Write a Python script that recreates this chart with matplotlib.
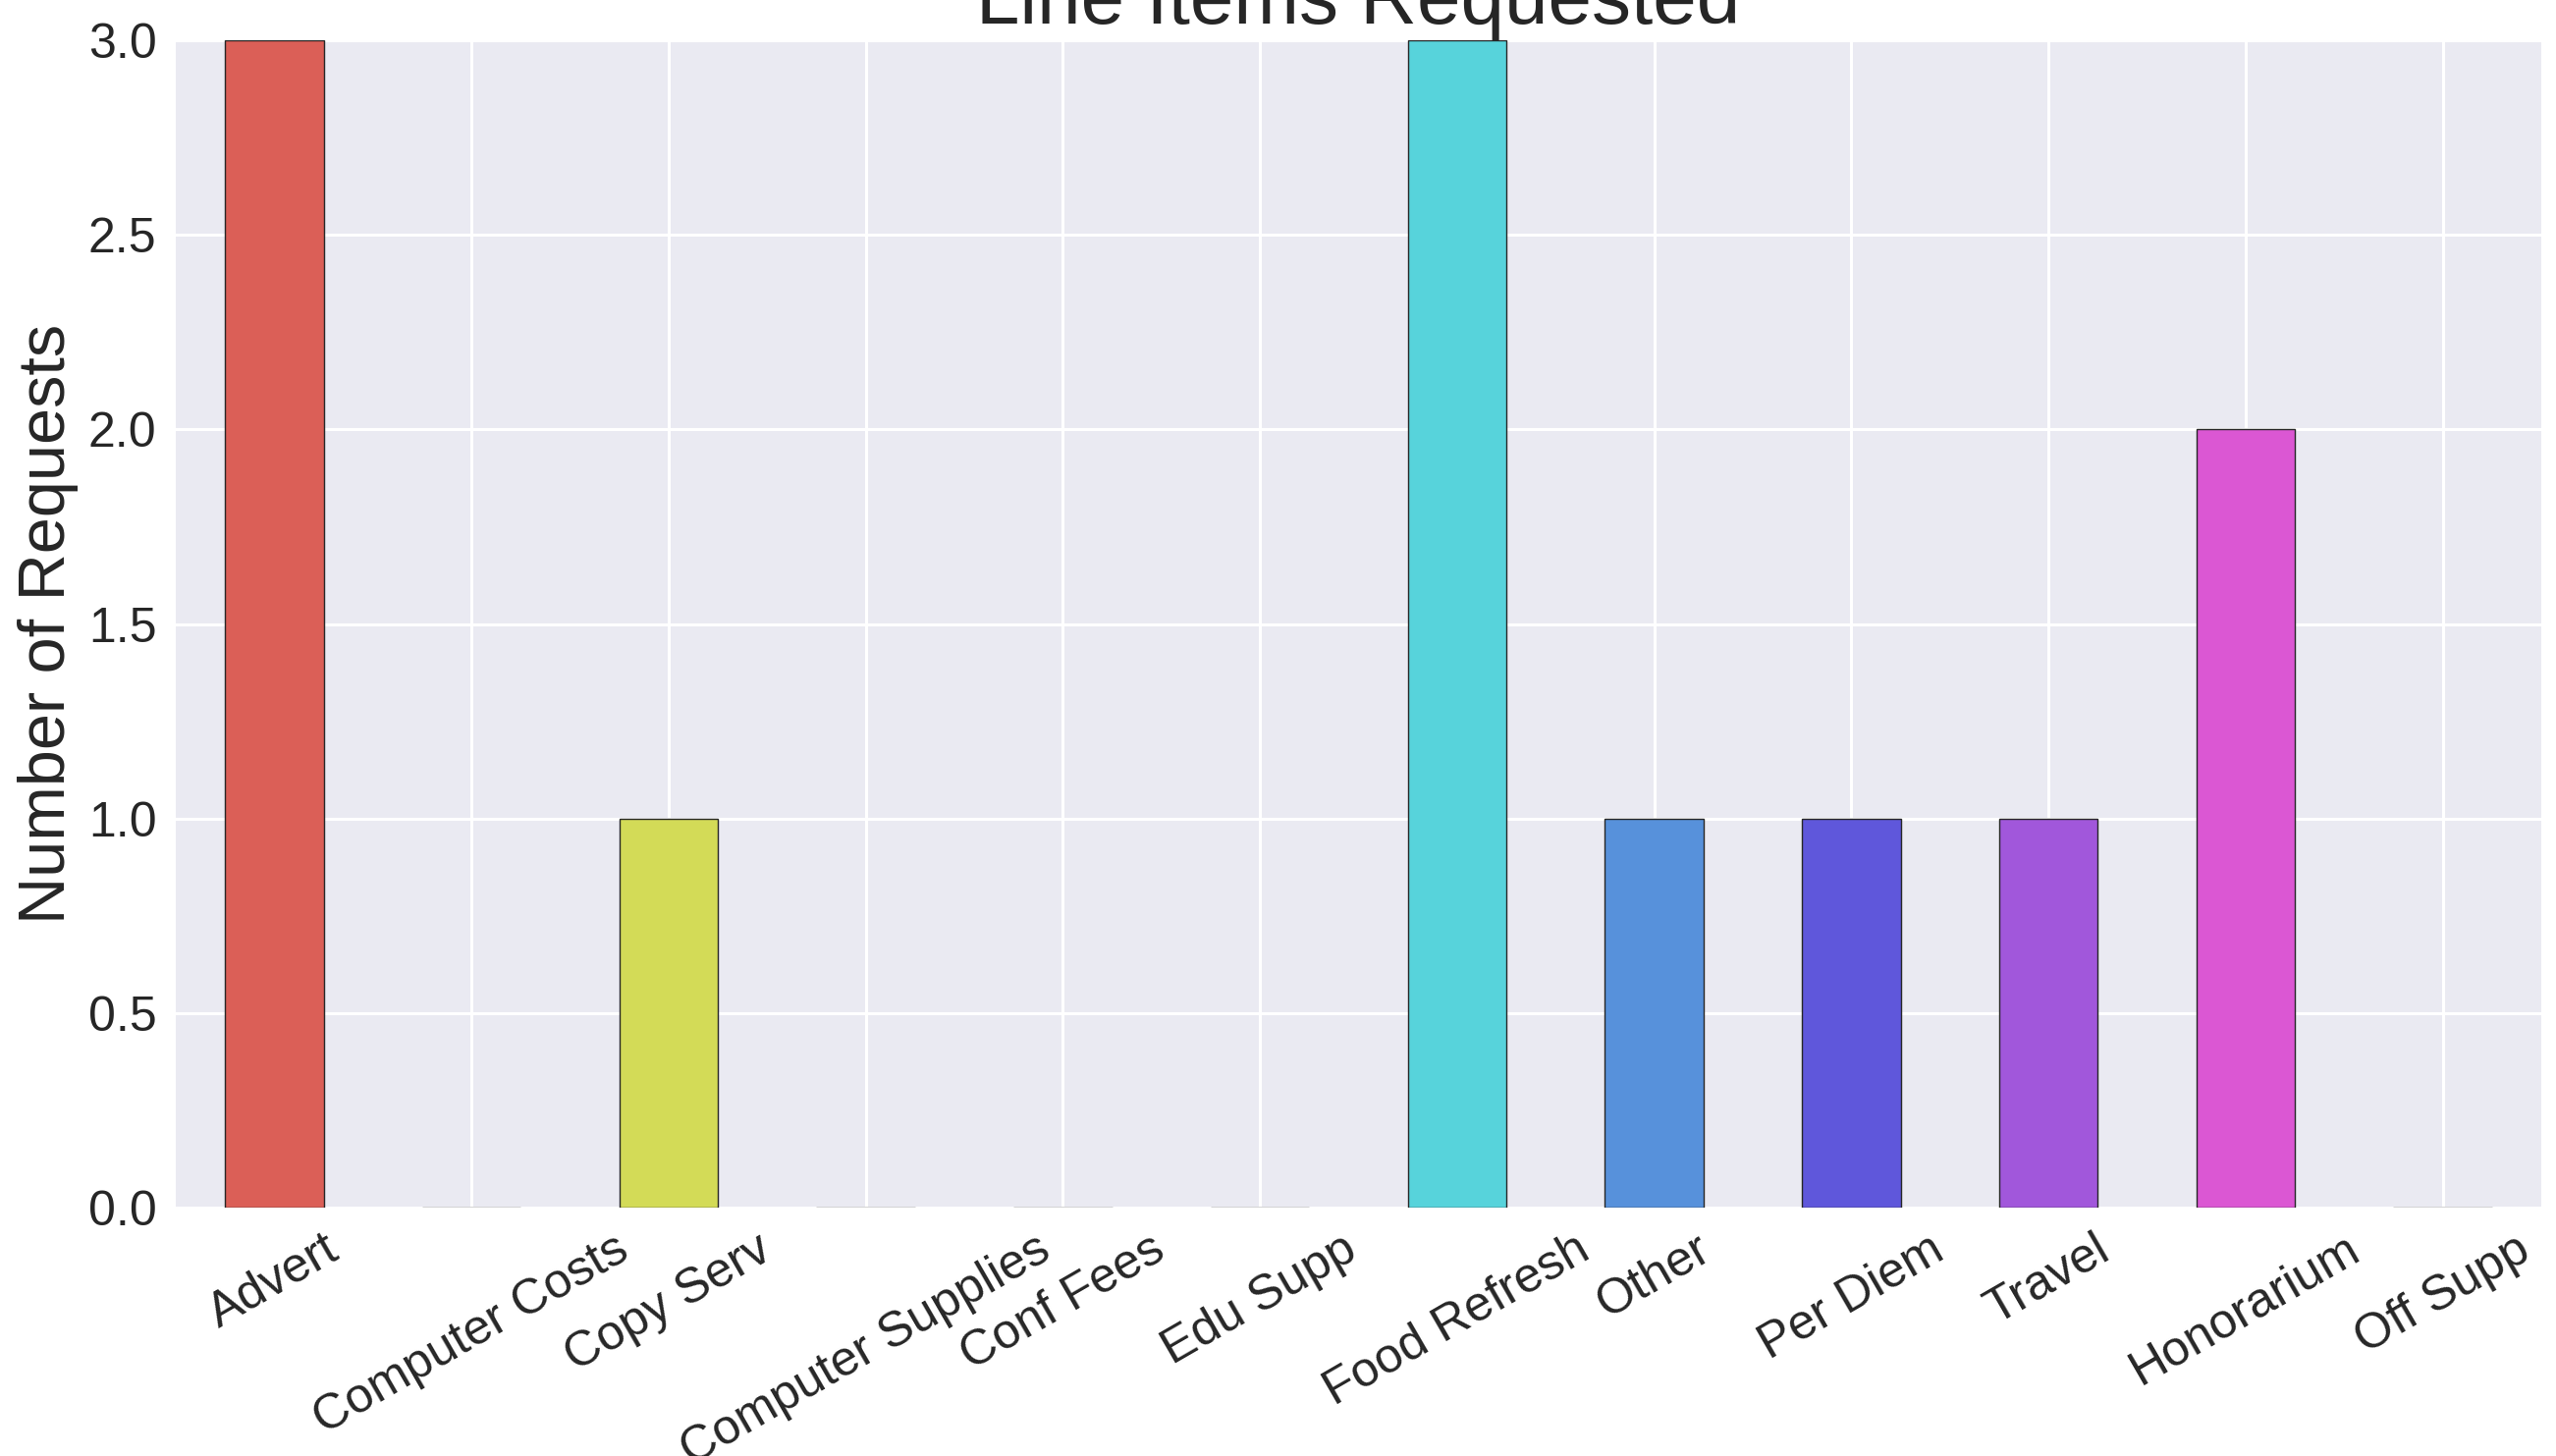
import matplotlib
matplotlib.use("Agg")
import matplotlib.pyplot as plt
import numpy as np

categories = ["Advert", "Computer Costs", "Copy Serv", "Computer Supplies", "Conf Fees",
              "Edu Supp", "Food Refresh", "Other", "Per Diem", "Travel", "Honorarium", "Off Supp"]
requests = [3, 0, 1, 0, 0, 0, 3, 1, 1, 1, 2, 0]
bar_colors = ["#db5f57", "#dba157", "#d3db57", "#91db57", "#57db5f", "#57dba1",
              "#57d3db", "#5791db", "#5f57db", "#a157db", "#db57d3", "#db5791"]
yticks = [0.0, 0.5, 1.0, 1.5, 2.0, 2.5, 3.0]

plt.rcParams['font.family'] = ['Liberation Sans', 'DejaVu Sans']
plt.rcParams['text.color'] = '#262626'

W, H = 2603, 1483
fig = plt.figure(figsize=(W / 100, H / 100), dpi=100)
ax = fig.add_axes([179 / W, 1 - 1230 / H, (2588 - 179) / W, (1230 - 41) / H])
ax.set_facecolor('#EAEAF2')
for s in ax.spines.values():
    s.set_visible(False)
ax.set_axisbelow(True)
ax.grid(True, color='white', linewidth=2.2)

x = np.arange(len(categories))
ax.bar(x, requests, width=0.5, color=bar_colors, edgecolor='#262626', linewidth=1.0)
ax.set_xlim(-0.5, len(categories) - 0.5)
ax.set_ylim(0, 3)
ax.set_yticks(yticks)
ax.set_yticklabels([f"{v:.1f}" for v in yticks])
ax.set_xticks(x)
ax.set_xticklabels(categories, rotation=30, ha='center')
ax.tick_params(axis='both', length=0, labelsize=36, labelcolor='#262626')
ax.tick_params(axis='y', pad=14)
ax.tick_params(axis='x', pad=14)
ax.set_ylabel("Number of Requests", fontsize=48, color='#262626', labelpad=7)
ax.set_title("Line Items Requested", fontsize=57.6, color='#262626', pad=12)

fig.savefig("out.png", dpi=100)
